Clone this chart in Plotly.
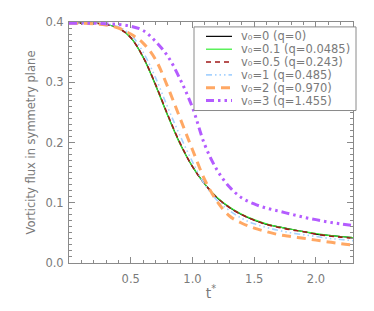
import plotly.graph_objects as go

t = [0.0, 0.1, 0.2, 0.3, 0.4, 0.5, 0.6, 0.7, 0.8, 0.9, 1.0, 1.1, 1.2,
     1.3, 1.4, 1.5, 1.6, 1.7, 1.8, 1.9, 2.0, 2.1, 2.2, 2.3]

v_0 = [0.398, 0.398, 0.398, 0.396, 0.390, 0.374, 0.342, 0.296, 0.245, 0.198,
       0.160, 0.131, 0.108, 0.092, 0.080, 0.071, 0.064, 0.060, 0.056, 0.052,
       0.048, 0.046, 0.044, 0.042]
v_01 = [0.398, 0.398, 0.398, 0.396, 0.390, 0.374, 0.341, 0.295, 0.244, 0.197,
        0.160, 0.131, 0.109, 0.093, 0.081, 0.072, 0.065, 0.060, 0.056, 0.052,
        0.049, 0.046, 0.044, 0.042]
v_05 = [0.398, 0.398, 0.398, 0.396, 0.390, 0.374, 0.342, 0.297, 0.246, 0.199,
        0.160, 0.131, 0.108, 0.092, 0.080, 0.071, 0.064, 0.059, 0.055, 0.052,
        0.048, 0.045, 0.043, 0.041]
v_1 = [0.398, 0.398, 0.398, 0.397, 0.392, 0.379, 0.350, 0.308, 0.258, 0.211,
       0.168, 0.130, 0.104, 0.087, 0.074, 0.065, 0.059, 0.054, 0.050, 0.047,
       0.044, 0.041, 0.039, 0.037]
v_2 = [0.398, 0.398, 0.397, 0.395, 0.390, 0.380, 0.365, 0.338, 0.292, 0.240,
       0.188, 0.138, 0.102, 0.078, 0.066, 0.058, 0.052, 0.047, 0.044, 0.041,
       0.038, 0.035, 0.032, 0.030]
v_3 = [0.398, 0.398, 0.398, 0.397, 0.396, 0.393, 0.386, 0.368, 0.343, 0.305,
       0.258, 0.196, 0.154, 0.126, 0.108, 0.098, 0.091, 0.086, 0.081, 0.076,
       0.072, 0.068, 0.065, 0.062]

names = ["v₀=0 (q=0)",
         "v₀=0.1 (q=0.0485)",
         "v₀=0.5 (q=0.243)",
         "v₀=1 (q=0.485)",
         "v₀=2 (q=0.970)",
         "v₀=3 (q=1.455)"]
series = [v_0, v_01, v_05, v_1, v_2, v_3]
colors = ["#000000", "#33ee33", "#a01818", "#a6d2ff", "#ffa864", "#b45cff"]
widths = [1.2, 1.2, 1.6, 1.6, 3, 3]
dashes = ["solid", "solid", "5px,4px",
          "6px,3px,1.5px,3px,1.5px,3px,1.5px,3px",
          "9px,6px",
          "8px,4px,2.5px,4px,2.5px,4px,2.5px,4px"]

font_family = "DejaVu Sans, Verdana, sans-serif"
font_color = "#7a7a7a"
axis_color = "#8a8a8a"

# plot-area geometry in pixels (for the hand-built legend box)
W, H = 374, 311
ML, MR, MT, MB = 69, 21, 22, 44
PW, PH = W - ML - MR, H - MT - MB


def px_x(p):
    return (p - ML) / PW


def px_y(p):
    return (H - MB - p) / PH


fig = go.Figure()
for nm, ys, c, w, d in zip(names, series, colors, widths, dashes):
    fig.add_trace(go.Scatter(x=t, y=ys, mode="lines", name=nm, showlegend=False,
                             line=dict(color=c, width=w, dash=d,
                                       shape="spline", smoothing=1.0)))

# legend (box, sample lines, labels)
fig.add_shape(type="rect", xref="paper", yref="paper",
              x0=px_x(194), x1=px_x(356), y0=px_y(112), y1=px_y(27),
              line=dict(color=axis_color, width=1), fillcolor="white", layer="above")
for i, (nm, c, w, d) in enumerate(zip(names, colors, widths, dashes)):
    yc = 36.6 + 13.05 * i
    fig.add_shape(type="line", xref="paper", yref="paper",
                  x0=px_x(206), x1=px_x(232), y0=px_y(yc), y1=px_y(yc),
                  line=dict(color=c, width=w, dash=d), layer="above")
    fig.add_annotation(text=nm, xref="paper", yref="paper",
                       x=px_x(240), y=px_y(yc), xanchor="left", yanchor="middle",
                       showarrow=False, borderpad=0,
                       font=dict(family=font_family, size=11.5, color=font_color))

fig.update_layout(
    width=W, height=H,
    margin=dict(l=ML, r=MR, t=MT, b=MB),
    paper_bgcolor="white", plot_bgcolor="white",
    font=dict(family=font_family, size=11.5, color=font_color),
    showlegend=False,
)
fig.update_xaxes(
    range=[0, 2.3], showgrid=False, zeroline=False,
    showline=True, linecolor=axis_color, linewidth=1, mirror="ticks",
    ticks="inside", ticklen=6, tickcolor=axis_color,
    tickmode="array", tickvals=[0.5, 1.0, 1.5, 2.0],
    ticktext=["0.5", "1.0", "1.5", "2.0"], ticklabelstandoff=5,
    minor=dict(tickmode="linear", tick0=0, dtick=0.1, ticks="inside",
               ticklen=3, tickcolor=axis_color),
    title=dict(text="t<sup>*</sup>", standoff=3,
               font=dict(family=font_family, size=14, color=font_color)),
)
fig.update_yaxes(
    range=[0, 0.4], showgrid=False, zeroline=False,
    showline=True, linecolor=axis_color, linewidth=1, mirror="ticks",
    ticks="inside", ticklen=6, tickcolor=axis_color,
    tickmode="linear", tick0=0, dtick=0.1, tickformat=".1f", ticklabelstandoff=2,
    minor=dict(tickmode="linear", tick0=0, dtick=0.01, ticks="inside",
               ticklen=3, tickcolor=axis_color),
    title=dict(text="Vorticity flux in symmetry plane", standoff=7,
               font=dict(family=font_family, size=11.5, color=font_color)),
)

fig.write_html("out.html", config={"displayModeBar": False},
               post_script="document.body.style.margin='0';document.body.style.padding='0';")
